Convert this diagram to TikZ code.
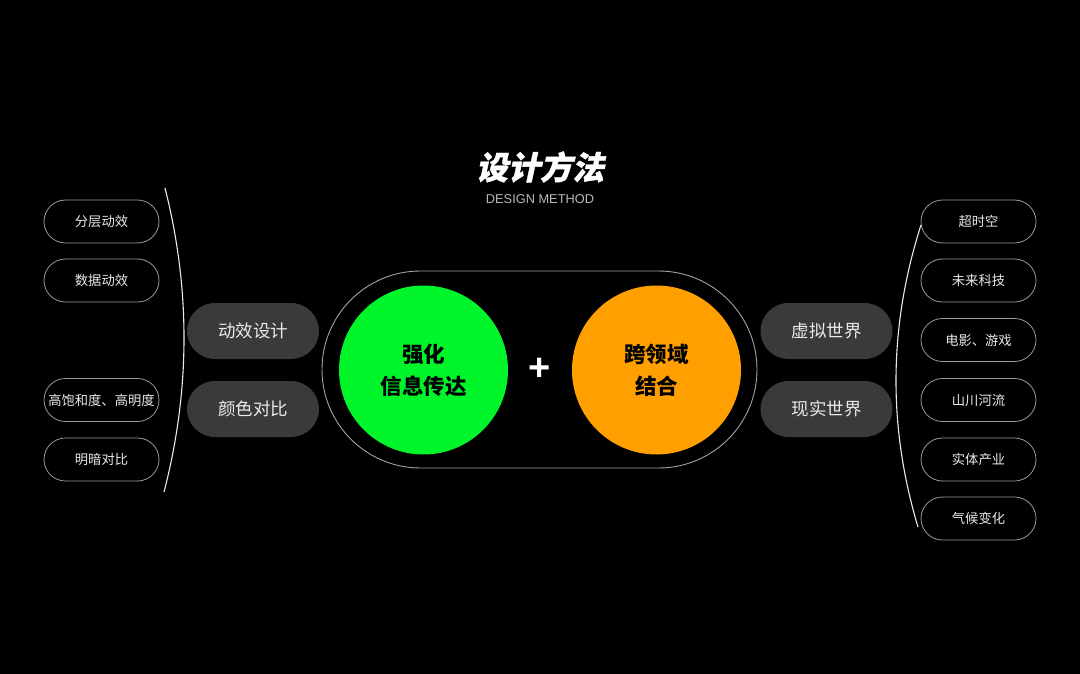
\documentclass[tikz,border=0pt]{standalone}
\usepackage{fontspec}
\newfontfamily\cjk{Noto Sans CJK SC}
\newfontfamily\cjktitle[FakeSlant=0.22,FakeBold=1.2]{Noto Sans CJK SC}
\newfontfamily\latin{Liberation Sans}
\definecolor{pillline}{HTML}{999999}
\definecolor{pillfill}{HTML}{3A3A3A}
\definecolor{pilltext}{HTML}{EAEAEA}
\definecolor{greenc}{HTML}{00F52A}
\definecolor{orangec}{HTML}{FFA000}
\tikzset{
  smallpill/.style={draw=pillline, line width=0.8pt, rounded corners=21.5pt,
    minimum width=115pt, minimum height=43pt, inner sep=0pt,
    text=pilltext, font=\cjk\fontsize{13.3}{15}\selectfont},
  bigpill/.style={fill=pillfill, rounded corners=28pt,
    minimum width=132pt, minimum height=56pt, inner sep=0pt,
    text=pilltext, font=\cjk\fontsize{17.5}{20}\selectfont},
  bigcircle/.style={circle, minimum size=169pt, inner sep=0pt, align=center,
    text=black, font=\cjk\bfseries\fontsize{21.5}{32}\selectfont},
  bracket/.style={draw=white!92!black, line width=1.1pt},
}
\begin{document}
\begin{tikzpicture}[x=1pt,y=-1pt]
\fill[black] (0,0) rectangle (1080,674);
\useasboundingbox (0,0) rectangle (1080,674);

% title
\node[text=white, font=\cjktitle\bfseries\fontsize{32}{36}\selectfont] (title) at (540,167) {设计方法};
\node[text=white!72!black, font=\latin\fontsize{12.8}{14}\selectfont] (subtitle) at (540,199) {DESIGN METHOD};

% center capsule
\node[draw=pillline!90!white, line width=0.9pt, rounded corners=98.5pt, minimum width=435pt, minimum height=197pt] (capsule) at (539.5,369.5) {};
\node[bigcircle, fill=greenc] (green) at (423.5,370) {强化\\信息传达};
\node[bigcircle, fill=orangec] (orange) at (656.5,370) {跨领域\\结合};
\node[text=white, font=\latin\bfseries\fontsize{38}{38}\selectfont, inner sep=0pt] (plus) at (540,369) {+};

% left
\node[bigpill] (dxsj) at (253,331) {动效设计};
\node[bigpill] (ysdb) at (253,409) {颜色对比};
\node[smallpill] (fcdx) at (101.5,221.5) {分层动效};
\node[smallpill] (sjdx) at (101.5,280.5) {数据动效};
\node[smallpill] (gbhd) at (101.5,400) {高饱和度、高明度};
\node[smallpill] (madb) at (101.5,459.5) {明暗对比};
\coordinate (la) at (165,188);
\coordinate (lb) at (164,492);
\draw[bracket] (la) .. controls (190.7,289.3) and (190.3,390.7) .. (lb);

% right
\node[bigpill] (xnsj) at (826.5,331) {虚拟世界};
\node[bigpill] (xssj) at (826.5,409) {现实世界};
\node[smallpill] (csk) at (978.5,221.5) {超时空};
\node[smallpill] (wlkj) at (978.5,280.5) {未来科技};
\node[smallpill] (dyyx) at (978.5,340) {电影、游戏};
\node[smallpill] (schl) at (978.5,400) {山川河流};
\node[smallpill] (stcy) at (978.5,459.5) {实体产业};
\node[smallpill] (qhbh) at (978.5,518.5) {气候变化};
\coordinate (ra) at (921,225);
\coordinate (rb) at (918,527);
\draw[bracket] (ra) .. controls (888.7,325.7) and (887.7,426.3) .. (rb);
\end{tikzpicture}
\end{document}
